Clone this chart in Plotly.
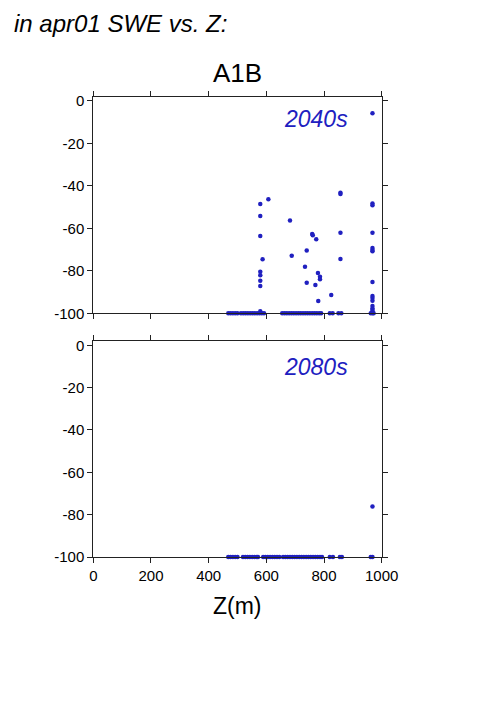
import plotly.graph_objects as go

# ---- data ----
# 2040s: points above the -100 floor
z_2040 = [968, 579, 607, 579, 579, 682, 857, 857, 968, 968, 759, 761, 773, 857, 968,
          688, 740, 587, 857, 968, 968, 968, 579, 579, 579, 579, 734, 740, 770, 779,
          786, 786, 780, 825, 968, 968, 968, 968, 968, 968, 968, 579, 968]
v_2040 = [-5.9, -48.6, -46.4, -54.2, -63.6, -56.3, -43.3, -43.9, -48.3, -49.2, -62.7, -63.3,
          -65.2, -62.1, -62.1, -72.9, -70.5, -74.6, -74.5, -69.3, -70.2, -70.8, -80.4, -82.1,
          -84.7, -87.2, -78.1, -85.6, -86.7, -81.0, -82.8, -84.0, -94.2, -91.4, -85.3, -91.9,
          -92.8, -94.1, -96.6, -97.7, -98.4, -99.0, -99.3]
# 2040s: points on the -100 floor
z_2040_floor = [468, 476, 484, 492, 500, 512, 520, 528, 536, 544, 552, 560, 568, 576, 584,
                592, 655, 663, 671, 679, 687, 695, 703, 711, 719, 727, 735, 743, 751, 759,
                767, 775, 783, 790, 820, 830, 850, 860, 962, 968, 972]
# 2080s
z_2080 = [968]
v_2080 = [-76.2]
z_2080_floor = [468, 476, 484, 492, 500, 519, 527, 535, 543, 551, 559, 567, 571, 589, 597,
                605, 613, 621, 629, 637, 645, 658, 666, 674, 682, 690, 698, 706, 714, 722,
                730, 738, 746, 754, 762, 770, 778, 786, 793, 820, 831, 855, 862, 962, 968]

x_ticks = [0, 200, 400, 600, 800, 1000]
y_ticks = [0, -20, -40, -60, -80, -100]
panel_labels = ["2040s", "2080s"]

BLUE = "#2020c0"
FONT = "Liberation Sans, Arial, Helvetica, sans-serif"
# page body has an 8px margin: keep the figure well inside the 501x709 window
OFF = 8
W, H = 460, 660


def px(x):
    return (x - OFF) / W


def py(y):
    return 1 - (y - OFF) / H


fig = go.Figure()


def add_panel(zs, vs, zf, xa, ya):
    fig.add_trace(go.Scatter(x=zs + zf, y=vs + [-100] * len(zf), mode="markers",
                             marker=dict(size=4.5, color=BLUE), cliponaxis=False,
                             xaxis=xa, yaxis=ya, showlegend=False))


add_panel(z_2040, v_2040, z_2040_floor, "x", "y")
add_panel(z_2080, v_2080, z_2080_floor, "x2", "y2")

xd = [px(93.3), px(381.7)]
top_dom = [py(313.3), py(96.7)]
bot_dom = [py(557.0), py(341.3)]

axis_common = dict(showline=True, linecolor="#222", linewidth=1, mirror="ticks",
                   ticks="outside", ticklen=5, tickcolor="#222", tickwidth=1,
                   showgrid=False, zeroline=False, automargin=False,
                   tickfont=dict(family=FONT, size=15, color="black"))

fig.update_layout(
    width=W, height=H, margin=dict(l=0, r=0, t=0, b=0, autoexpand=False),
    paper_bgcolor="white", plot_bgcolor="white",
    font=dict(family=FONT, color="black"),
    xaxis=dict(domain=xd, range=[0, 1000], tickvals=x_ticks, showticklabels=False,
               anchor="y", **axis_common),
    yaxis=dict(domain=top_dom, range=[-100, 1.9], tickvals=y_ticks,
               ticktext=[str(t) for t in y_ticks], anchor="x", **axis_common),
    xaxis2=dict(domain=xd, range=[0, 1000], tickvals=x_ticks,
                ticktext=[str(t) for t in x_ticks], anchor="y2", **axis_common),
    yaxis2=dict(domain=bot_dom, range=[-100, 1.9], tickvals=y_ticks,
                ticktext=[str(t) for t in y_ticks], anchor="x2", **axis_common),
)

ann = [
    dict(text="<i>in apr01 SWE vs. Z:</i>", x=px(12), y=1.0, xanchor="left", yanchor="top",
         font=dict(size=24, family=FONT, color="black")),
    dict(text="A1B", x=px(237), y=py(73), xanchor="center", yanchor="middle",
         font=dict(size=26, family=FONT, color="black")),
    dict(text="<i>%s</i>" % panel_labels[0], x=px(350), y=py(119), xanchor="right",
         yanchor="middle", font=dict(size=23, family=FONT, color=BLUE)),
    dict(text="<i>%s</i>" % panel_labels[1], x=px(350), y=py(367), xanchor="right",
         yanchor="middle", font=dict(size=23, family=FONT, color=BLUE)),
    dict(text="Z(m)", x=px(237), y=py(606), xanchor="center", yanchor="middle",
         font=dict(size=23, family=FONT, color="black")),
]
for a in ann:
    a.update(xref="paper", yref="paper", showarrow=False)
fig.update_layout(annotations=ann)

fig.write_html("out.html")
